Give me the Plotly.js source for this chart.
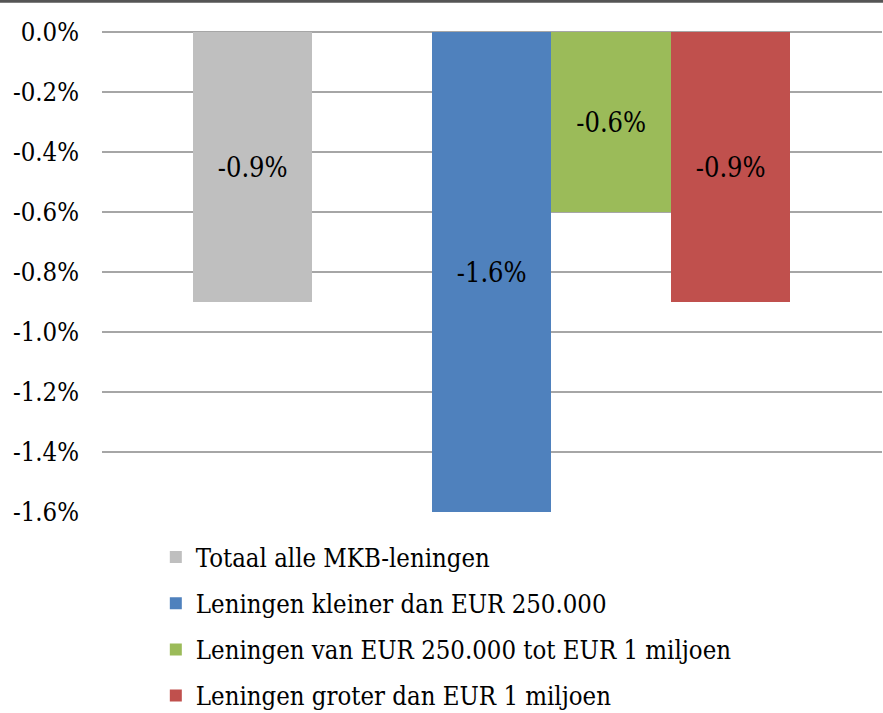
<!DOCTYPE html>
<html>
<head>
<meta charset="utf-8">
<script src="https://cdn.plot.ly/plotly-3.0.1.min.js"></script>
<style>html,body{margin:0;padding:0;background:#fff;}#chart{width:883px;height:713px;}</style>
</head>
<body>
<div id="chart"></div>
<script>
const categories = ['Totaal alle MKB-leningen', ' ', 'Leningen kleiner dan EUR 250.000', 'Leningen van EUR 250.000 tot EUR 1 miljoen', 'Leningen groter dan EUR 1 miljoen'];
const seriesNames = ['Totaal alle MKB-leningen', 'Leningen kleiner dan EUR 250.000', 'Leningen van EUR 250.000 tot EUR 1 miljoen', 'Leningen groter dan EUR 1 miljoen'];
const seriesValues = [-0.009, -0.016, -0.006, -0.009];
const seriesLabels = ['-0.9%', '-1.6%', '-0.6%', '-0.9%'];
const seriesColors = ['#bfbfbf', '#4f81bd', '#9bbb59', '#c0504d'];
const tickValues = [0, -0.002, -0.004, -0.006, -0.008, -0.010, -0.012, -0.014, -0.016];
const tickLabels = ['0.0%', '-0.2%', '-0.4%', '-0.6%', '-0.8%', '-1.0%', '-1.2%', '-1.4%', '-1.6%'];

const serif = 'DejaVu Serif Condensed';
const traces = seriesNames.map((name, i) => ({
  type: 'bar',
  name: name,
  legendgroup: 'g' + i,
  x: [name],
  y: [seriesValues[i]],
  text: [seriesLabels[i]],
  textposition: 'inside',
  insidetextanchor: 'middle',
  textfont: {family: serif, size: 27, color: '#000'},
  marker: {color: seriesColors[i], line: {width: 0}},
  hoverinfo: 'skip'
}));

const layout = {
  width: 883, height: 713,
  margin: {l: 102, r: 1, t: 32, b: 201},
  paper_bgcolor: '#fff', plot_bgcolor: '#fff',
  barmode: 'overlay', bargap: 0,
  showlegend: true,
  legend: {x: 0.069, xanchor: 'left', yref: 'container', y: 1 - 534 / 713, yanchor: 'top', traceorder: 'grouped', tracegroupgap: 10,
           font: {family: serif, size: 25.5, color: '#000'}, bgcolor: 'rgba(0,0,0,0)'},
  xaxis: {type: 'category', categoryorder: 'array', categoryarray: categories,
          range: [-1.261, 5.266], showticklabels: false, showgrid: false, zeroline: false, showline: false, ticks: ''},
  yaxis: {range: [-0.016, 0], tickvals: tickValues, ticktext: tickLabels, showgrid: true,
          gridcolor: '#a6a6a6', gridwidth: 1.5, zeroline: true, zerolinecolor: '#a6a6a6', zerolinewidth: 1.5,
          showline: false, ticks: '', ticklabelstandoff: 22,
          tickfont: {family: serif, size: 25.5, color: '#000'}},
  shapes: [{type: 'line', xref: 'paper', yref: 'paper', x0: -0.14, x1: 1.01, y0: 1.064, y1: 1.064,
            line: {color: '#555', width: 3}}]
};

Plotly.newPlot('chart', traces, layout, {displayModeBar: false, staticPlot: true});
</script>
</body>
</html>
